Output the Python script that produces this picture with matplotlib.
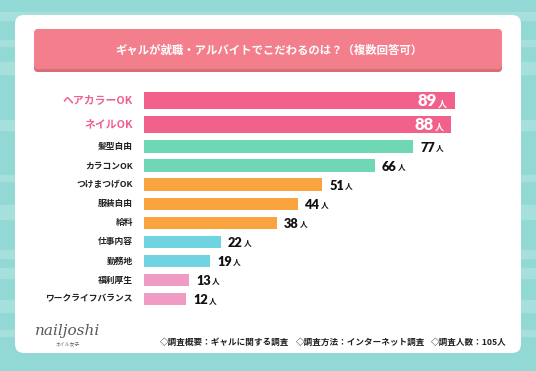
import matplotlib
matplotlib.use("Agg")
import matplotlib.pyplot as plt
from matplotlib.patches import FancyBboxPatch, Rectangle

plt.rcParams['font.family'] = ['Noto Sans CJK JP', 'DejaVu Sans']

# データ
項目 = ["ヘアカラーOK", "ネイルOK", "髪型自由", "カラコンOK", "つけまつげOK",
      "服装自由", "給料", "仕事内容", "勤務地", "福利厚生", "ワークライフバランス"]
人数 = [89, 88, 77, 66, 51, 44, 38, 22, 19, 13, 12]
色 = ["#f2608c", "#f2608c", "#6fd7b5", "#6fd7b5", "#f9a43e", "#f9a43e",
     "#f9a43e", "#6fd3e0", "#6fd3e0", "#ef9bc4", "#ef9bc4"]
タイトル = "ギャルが就職・アルバイトでこだわるのは？（複数回答可）"
注記 = ["◇調査概要：ギャルに関する調査", "◇調査方法：インターネット調査", "◇調査人数：105人"]

W, H = 536, 371
fig = plt.figure(figsize=(W / 100, H / 100), dpi=100)

# 背景（ピクセル座標）
bg = fig.add_axes([0, 0, 1, 1])
bg.set_xlim(0, W)
bg.set_ylim(H, 0)
bg.axis("off")
bg.add_patch(Rectangle((0, 0), W, H, color="#92d9d5", zorder=0))
for y0, h in [(12, 8), (40, 6), (62, 12), (120, 10), (175, 6), (205, 14),
              (250, 8), (268, 10), (300, 12), (330, 6)]:
    bg.add_patch(Rectangle((0, y0), W, h, color="#a6e0dc", zorder=0.5))
bg.add_patch(FancyBboxPatch((15, 15), 506, 338, boxstyle="round,pad=0,rounding_size=9",
                            fc="white", ec="none", zorder=1))
bg.add_patch(FancyBboxPatch((34, 32), 468, 40, boxstyle="round,pad=0,rounding_size=4",
                            fc="#d86c78", ec="none", zorder=2))
bg.add_patch(FancyBboxPatch((34, 29), 468, 40, boxstyle="round,pad=0,rounding_size=4",
                            fc="#f47f8c", ec="none", zorder=3))
bg.text(269, 50, タイトル, color="white", fontsize=8.2, fontweight="bold",
        ha="center", va="center", zorder=4)

# 棒グラフ
ax = fig.add_axes([144 / W, 0, 349.4 / W, 1])
ax.set_xlim(0, 100)
ax.set_ylim(H, 0)
ax.axis("off")
ax.patch.set_visible(False)

位置 = [100.5 + 23.5 * i if i < 2 else 146.7 + 19.05 * (i - 2) for i in range(len(人数))]
高さ = [17 if i < 2 else 12.7 for i in range(len(人数))]
ax.barh(位置, 人数, height=高さ, color=色, zorder=3)

for i, (名, n, y) in enumerate(zip(項目, 人数, 位置)):
    if i < 2:
        bg.text(133, y, 名, color="#f0608c", fontsize=7.8, fontweight="bold",
                ha="right", va="center")
        ax.annotate("人", xy=(n, y), xytext=(-8, -6), textcoords="offset pixels",
                    color="white", fontsize=6.5, fontweight="bold",
                    ha="right", va="baseline", zorder=4)
        ax.annotate(str(n), xy=(n, y), xytext=(-18, -6), textcoords="offset pixels",
                    color="white", fontsize=12, fontweight="heavy", ha="right",
                    va="baseline", zorder=4, family="Lato")
    else:
        bg.text(133, y, 名, color="#222222", fontsize=6.3, fontweight="bold",
                ha="right", va="center")
        num = ax.annotate(str(n), xy=(n, y), xytext=(7, -5), textcoords="offset pixels",
                          color="#111111", fontsize=9.2, fontweight="heavy",
                          ha="left", va="baseline", zorder=4, family="Lato")
        ax.annotate("人", xy=(1, 0), xycoords=num, xytext=(1, 1.5),
                    textcoords="offset pixels", color="#111111", fontsize=5.5,
                    fontweight="bold", ha="left", va="bottom", zorder=4)

# ロゴと注記
bg.text(68, 331, "nailjoshi", color="#5a5a5a", fontsize=11, fontstyle="italic",
        family="DejaVu Serif", ha="center", va="center", zorder=5)
bg.text(68, 344, "ネイル女子", color="#666666", fontsize=3.5, ha="center",
        va="center", zorder=5)
for x0, s in zip([160, 296, 431], 注記):
    bg.text(x0, 342, s, color="#222222", fontsize=6.2, fontweight="bold",
            ha="left", va="center", zorder=5)

fig.savefig("out.png", dpi=100)
